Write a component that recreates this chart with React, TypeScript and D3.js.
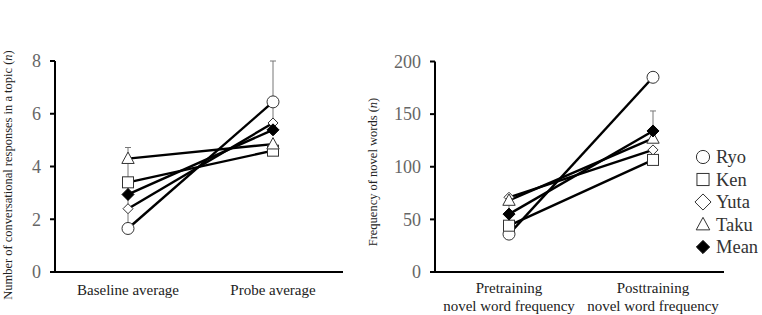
import React from "react";
import * as d3 from "d3";

const names = ["Ryo", "Ken", "Yuta", "Taku"];
const shapes = ["circle", "square", "diamondSmall", "triangle"];

// Left panel
const leftCategories = ["Baseline average", "Probe average"];
const leftRyo = [1.65, 6.45];
const leftKen = [3.4, 4.6];
const leftYuta = [2.4, 5.65];
const leftTaku = [4.3, 4.85];
const leftMean = [2.94, 5.39];
const leftErrLow = [1.65, 5.39];
const leftErrHigh = [4.72, 8.0];
const leftTicks = [0, 2, 4, 6, 8];

// Right panel
const rightCategories = [["Pretraining", "novel word frequency"], ["Posttraining", "novel word frequency"]];
const rightRyo = [36, 185];
const rightKen = [44, 106.5];
const rightYuta = [71, 116];
const rightTaku = [68, 127];
const rightMean = [55, 134];
const rightErrLow = [44, 134];
const rightErrHigh = [72, 153];
const rightTicks = [0, 50, 100, 150, 200];

const legendLabels = ["Ryo", "Ken", "Yuta", "Taku", "Mean"];
const legendShapes = ["circle", "square", "diamond", "triangle", "mean"];

const FONT = "Liberation Serif, Times New Roman, serif";

function Marker({ shape, x, y, s = 1 }: { shape: string; x: number; y: number; s?: number }) {
  const st = { stroke: "#333", strokeWidth: 1, fill: "#fff" };
  if (shape === "circle") return <circle cx={x} cy={y} r={6 * s} {...st} />;
  if (shape === "square") return <rect x={x - 5.5 * s} y={y - 5.5 * s} width={11 * s} height={11 * s} {...st} />;
  if (shape === "diamondSmall") {
    const r = 5 * s;
    return <path d={`M${x},${y - r}L${x + r},${y}L${x},${y + r}L${x - r},${y}Z`} {...st} />;
  }
  if (shape === "diamond") {
    const r = 7 * s;
    return <path d={`M${x},${y - r}L${x + r},${y}L${x},${y + r}L${x - r},${y}Z`} {...st} />;
  }
  if (shape === "triangle") {
    const r = 6.5 * s;
    return <path d={`M${x},${y - r}L${x + r * 0.95},${y + r * 0.75}L${x - r * 0.95},${y + r * 0.75}Z`} {...st} />;
  }
  const r = 6 * s;
  return <path d={`M${x},${y - r}L${x + r},${y}L${x},${y + r}L${x - r},${y}Z`} fill="#000" stroke="#000" strokeWidth={1} />;
}

function Panel({
  x0, x1, y0, y1, xs, domainMax, ticks, series, mean, errLow, errHigh, tickLabelRight,
}: any) {
  const y = d3.scaleLinear().domain([0, domainMax]).range([y0, y1]);
  const lineGen = d3.line<number>().x((_, i) => xs[i]).y((v) => y(v));
  return (
    <g>
      {mean.map((_: number, i: number) => (
        <g key={"e" + i}>
          <line x1={xs[i]} x2={xs[i]} y1={y(errLow[i])} y2={y(errHigh[i])} stroke="#777" strokeWidth={1} />
          <line x1={xs[i] - 3} x2={xs[i] + 3} y1={y(errHigh[i])} y2={y(errHigh[i])} stroke="#777" strokeWidth={1} />
        </g>
      ))}
      {[...series, mean].map((vals: number[], k: number) => (
        <path key={"l" + k} d={lineGen(vals) as string} fill="none" stroke="#000" strokeWidth={2.4} />
      ))}
      {series.map((vals: number[], k: number) =>
        vals.map((v, i) => <Marker key={`m${k}-${i}`} shape={shapes[k]} x={xs[i]} y={y(v)} />)
      )}
      {mean.map((v: number, i: number) => (
        <Marker key={"mm" + i} shape="mean" x={xs[i]} y={y(v)} />
      ))}
      <line x1={x0} x2={x0} y1={y(0)} y2={y(domainMax)} stroke="#000" strokeWidth={2} />
      <line x1={x0 - 1} x2={x1} y1={y(0)} y2={y(0)} stroke="#000" strokeWidth={2} />
      {ticks.map((t: number) => (
        <g key={"t" + t}>
          <line x1={x0 - 5} x2={x0} y1={y(t)} y2={y(t)} stroke="#000" strokeWidth={2} />
          <text x={tickLabelRight} y={y(t)} dy="0.35em" textAnchor="end" fill="#666" style={{ fontFamily: FONT, fontSize: 18 }}>
            {t}
          </text>
        </g>
      ))}
    </g>
  );
}

export default function App() {
  const leftXs = [128, 273];
  const rightXs = [509, 653];
  return (
    <svg width={762} height={315} style={{ position: "absolute", left: 0, top: 0 }}>
      <rect width={762} height={315} fill="#fff" />
      <Panel
        x0={55} x1={343} y0={272} y1={61} xs={leftXs} domainMax={8} ticks={leftTicks}
        series={[leftRyo, leftKen, leftYuta, leftTaku]} mean={leftMean}
        errLow={leftErrLow} errHigh={leftErrHigh} tickLabelRight={41}
      />
      <Panel
        x0={435} x1={724} y0={272} y1={61.5} xs={rightXs} domainMax={200} ticks={rightTicks}
        series={[rightRyo, rightKen, rightYuta, rightTaku]} mean={rightMean}
        errLow={rightErrLow} errHigh={rightErrHigh} tickLabelRight={421}
      />
      <text transform="translate(12,175) rotate(-90)" textAnchor="middle" fill="#222" style={{ fontFamily: FONT, fontSize: 12.5 }}>
        Number of conversational responses in a topic (<tspan fontStyle="italic">n</tspan>)
      </text>
      <text transform="translate(377,172) rotate(-90)" textAnchor="middle" fill="#222" style={{ fontFamily: FONT, fontSize: 12.5 }}>
        Frequency of novel words (<tspan fontStyle="italic">n</tspan>)
      </text>
      {leftCategories.map((c, i) => (
        <text key={c} x={leftXs[i]} y={295} textAnchor="middle" fill="#222" style={{ fontFamily: FONT, fontSize: 15 }}>
          {c}
        </text>
      ))}
      {rightCategories.map((c, i) => (
        <text key={i} x={rightXs[i]} textAnchor="middle" fill="#222" style={{ fontFamily: FONT, fontSize: 15 }}>
          <tspan x={rightXs[i]} y={293}>{c[0]}</tspan>
          <tspan x={rightXs[i]} y={311}>{c[1]}</tspan>
        </text>
      ))}
      {legendLabels.map((l, i) => {
        const cy = 157 + i * 22.5;
        return (
          <g key={l}>
            <Marker shape={legendShapes[i]} x={703} y={cy} s={legendShapes[i] === "diamond" ? 1.15 : 1.1} />
            <text x={716} y={cy} dy="0.35em" fill="#333" style={{ fontFamily: FONT, fontSize: 18.5 }}>
              {l}
            </text>
          </g>
        );
      })}
    </svg>
  );
}
